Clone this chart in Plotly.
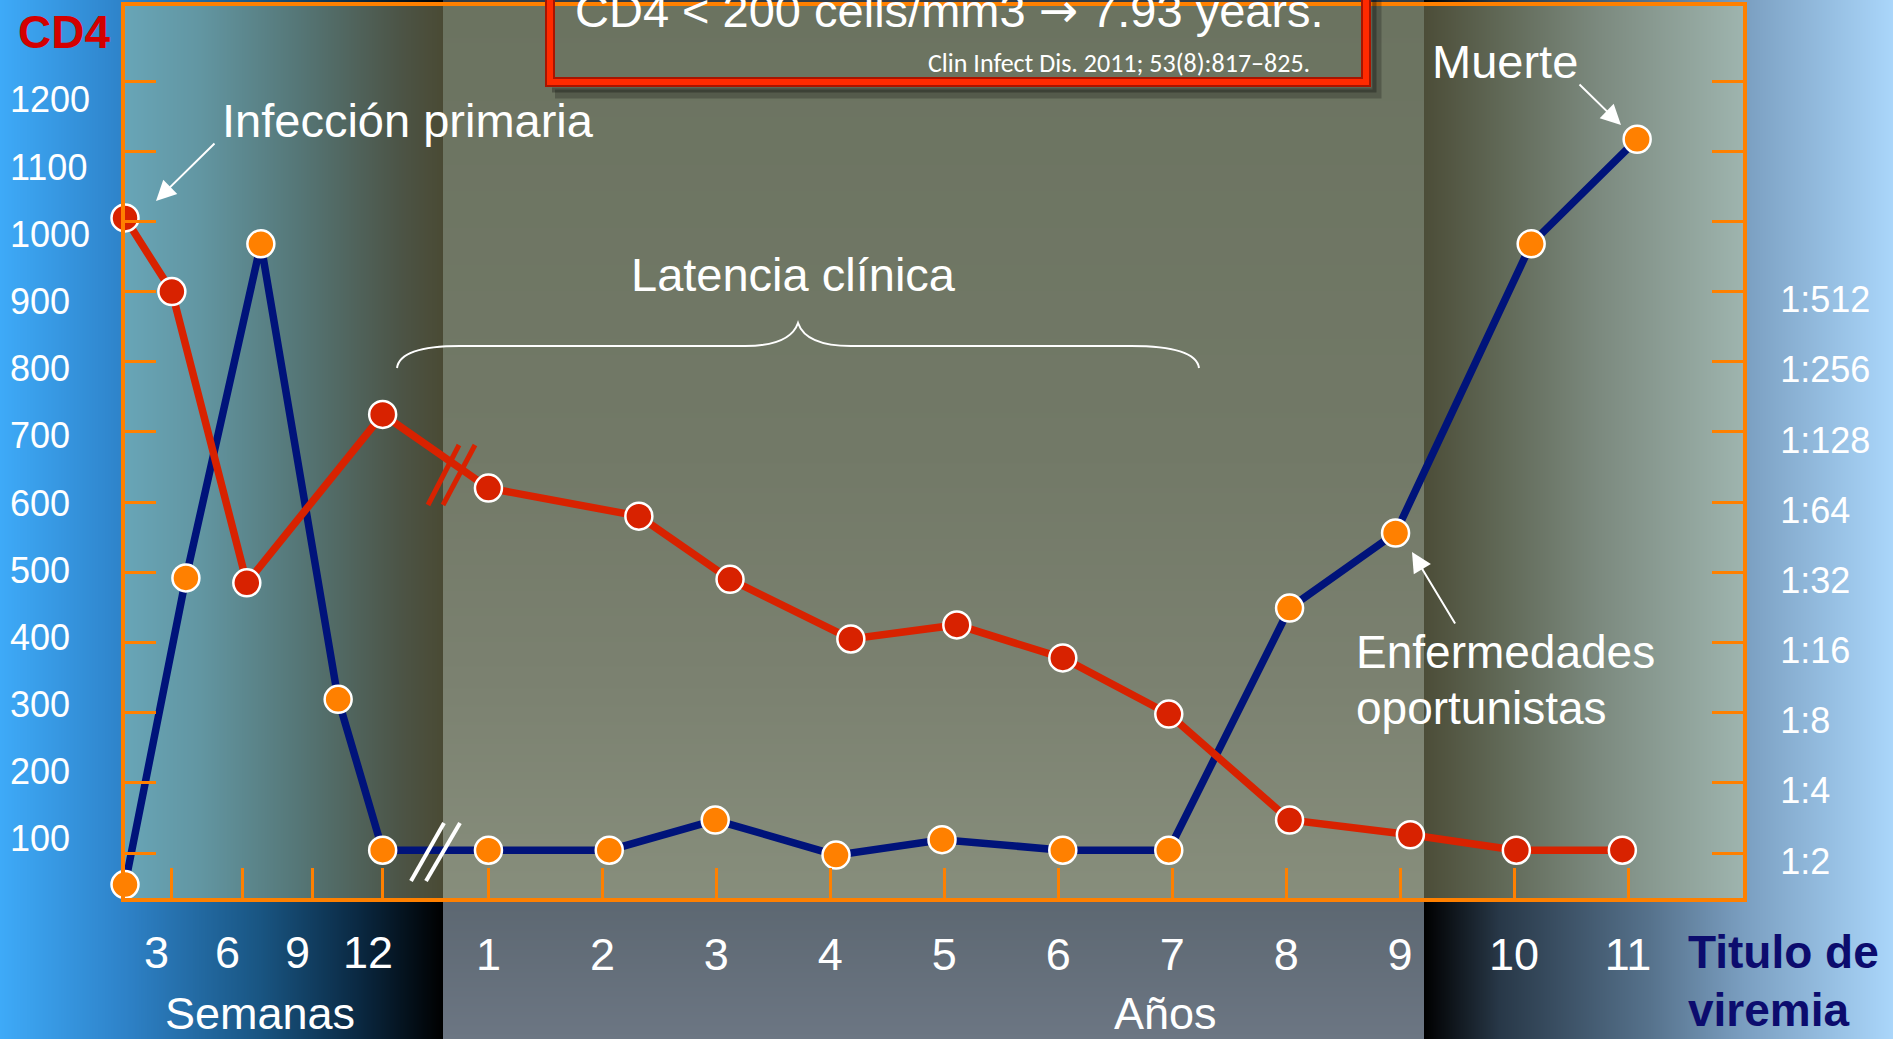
import base64
import struct
import zlib

import numpy as np
import plotly.graph_objects as go

# ---------------- data ----------------
week_ticks = [3, 6, 9, 12]
year_ticks = [1, 2, 3, 4, 5, 6, 7, 8, 9, 10, 11]

# CD4 count (cells/mm3): early phase in weeks, then in years
cd4_weeks = [1.0, 3.0, 6.2, 12.0]
cd4_week_counts = [1005, 900, 485, 725]
cd4_years = [1.0, 2.32, 3.12, 4.18, 5.11, 6.04, 6.97, 8.03, 9.09, 10.02, 10.95]
cd4_year_counts = [620, 580, 490, 405, 425, 378, 298, 147, 126, 104, 104]

# viremia titre, as log2 of the dilution (1 -> 1:2, 9 -> 1:512)
vir_weeks = [1.0, 3.6, 6.8, 10.1, 12.0]
vir_week_log2 = [0.55, 4.92, 9.68, 3.19, 1.04]
vir_years = [1.0, 2.06, 2.99, 4.05, 4.98, 6.04, 6.97, 8.03, 8.96, 10.15, 11.08]
vir_year_log2 = [1.04, 1.04, 1.47, 0.97, 1.19, 1.04, 1.04, 4.49, 5.56, 9.68, 11.17]

cd4_ticks = [100, 200, 300, 400, 500, 600, 700, 800, 900, 1000, 1100, 1200]
titer_ticks = [1, 2, 3, 4, 5, 6, 7, 8, 9, 10, 11, 12]
titer_labels = ["1:2", "1:4", "1:8", "1:16", "1:32", "1:64", "1:128", "1:256", "1:512"]

# ---------------- geometry ----------------
W, H = 1893, 1039
L, T = 125, 6            # plot area origin (px)
PW, PH = 1618, 892       # plot area size (px)
R = W - L - PW
B = H - T - PH

ORANGE = "#ff8000"
RED = "#d82200"
NAVY = "#00137a"
FONT = "Liberation Sans, Arial, sans-serif"

# broken time axis: years are linear, the first weeks are stretched
X_MIN, X_MAX = -2.1893, 12.0088
WEEK0, WEEK_UNIT = -2.3947, 0.20553


def week_pos(w):
    return WEEK0 + WEEK_UNIT * w


Y_MIN, Y_MAX = 35.9, 1306.9          # CD4 axis
LBL_MIN, LBL_MAX = 12.1, 1339.9      # axis carrying the left-hand labels


def X(px):
    return (px - L) / PW


def Y(py):
    return (T + PH - py) / PH


# ---------------- background ----------------
xs = np.arange(W) + 0.5
ys = np.arange(H) + 0.5


def ramp(coord, stops):
    pos = [s[0] for s in stops]
    cols = np.array([s[1] for s in stops], float)
    return np.stack([np.interp(coord, pos, cols[:, k]) for k in range(3)], axis=-1)


img = np.zeros((H, W, 3))
colA = xs < 443
colB = (xs >= 443) & (xs < 1424)
colC = xs >= 1424

outer_a = ramp(xs, [(0, (62, 170, 248)), (125, (46, 130, 200)), (260, (25, 85, 130)),
                    (360, (10, 40, 65)), (443, (0, 0, 0))])
outer_b = ramp(ys, [(0, (50, 60, 70)), (898, (92, 103, 113)), (1039, (108, 118, 131))])
outer_c = ramp(xs, [(1424, (0, 0, 0)), (1500, (40, 56, 72)), (1650, (86, 114, 140)),
                    (1743, (122, 158, 192)), (1893, (170, 214, 250))])
img[:, colA] = outer_a[colA][None, :, :]
img[:, colB] = outer_b[:, None, :]
img[:, colC] = outer_c[colC][None, :, :]

rows_p = (ys >= T) & (ys < T + PH)
pa = (xs >= L) & (xs < 443)
pb = colB
pc = (xs >= 1424) & (xs < L + PW)
plot_a = ramp(xs, [(125, (104, 165, 183)), (200, (98, 150, 162)), (300, (85, 118, 118)),
                   (400, (76, 84, 70)), (443, (74, 74, 52))])
plot_b = ramp(ys, [(6, (107, 115, 96)), (450, (114, 121, 103)), (680, (123, 129, 112)),
                   (898, (135, 142, 124))])
plot_c = ramp(xs, [(1424, (76, 77, 56)), (1500, (96, 104, 86)), (1600, (124, 138, 127)),
                   (1743, (158, 180, 174))])
ri = np.where(rows_p)[0]
img[np.ix_(ri, np.where(pa)[0])] = plot_a[pa][None, :, :]
img[np.ix_(ri, np.where(pb)[0])] = plot_b[rows_p][:, None, :]
img[np.ix_(ri, np.where(pc)[0])] = plot_c[pc][None, :, :]


def png_data_uri(arr):
    a = np.clip(np.round(arr), 0, 255).astype(np.int16)
    h, w, _ = a.shape
    d = np.empty_like(a)
    d[:, 0] = a[:, 0]
    d[:, 1:] = a[:, 1:] - a[:, :-1]
    d = (d % 256).astype(np.uint8).reshape(h, w * 3)
    raw = np.concatenate([np.ones((h, 1), np.uint8), d], axis=1).tobytes()

    def chunk(tag, data):
        return (struct.pack(">I", len(data)) + tag + data
                + struct.pack(">I", zlib.crc32(tag + data) & 0xFFFFFFFF))

    png = (b"\x89PNG\r\n\x1a\n"
           + chunk(b"IHDR", struct.pack(">IIBBBBB", w, h, 8, 2, 0, 0, 0))
           + chunk(b"IDAT", zlib.compress(raw, 9))
           + chunk(b"IEND", b""))
    return "data:image/png;base64," + base64.b64encode(png).decode()


# ---------------- traces ----------------
cd4_x = [week_pos(w) for w in cd4_weeks] + cd4_years
cd4_y = cd4_week_counts + cd4_year_counts
vir_x = [week_pos(w) for w in vir_weeks] + vir_years
vir_y = vir_week_log2 + vir_year_log2

fig = go.Figure()
# viremia on the base (right-hand, titre) axis; CD4 on the overlay so it sits on top
fig.add_trace(go.Scatter(
    x=vir_x, y=vir_y, yaxis="y", mode="lines+markers", name="Viremia",
    line=dict(color=NAVY, width=7.5),
    marker=dict(size=27, color=ORANGE, line=dict(color="white", width=2.5)),
    cliponaxis=False, showlegend=False, hoverinfo="skip"))
fig.add_trace(go.Scatter(
    x=cd4_x, y=cd4_y, yaxis="y2", mode="lines+markers", name="CD4",
    line=dict(color=RED, width=7.5),
    marker=dict(size=27, color=RED, line=dict(color="white", width=2.5)),
    cliponaxis=False, showlegend=False, hoverinfo="skip"))

# ---------------- annotations ----------------
ann = []


def text(s, px, py, size=47, color="white", anchor="left", bold=False, family=FONT):
    ann.append(dict(text=f"<b>{s}</b>" if bold else s, xref="paper", yref="paper",
                    x=X(px), y=Y(py), xanchor=anchor, yanchor="middle",
                    showarrow=False, font=dict(size=size, color=color, family=family)))


def arrow(hx, hy, tx, ty):
    ann.append(dict(text="", xref="paper", yref="paper", x=X(hx), y=Y(hy),
                    ax=tx - hx, ay=ty - hy, showarrow=True, arrowhead=2,
                    arrowsize=2, arrowwidth=2, arrowcolor="white"))


text("CD4", 16, 31.5, size=46, color="#d40000", bold=True)
text("Infección primaria", 220, 121)
text("Latencia clínica", 629, 274)
text("Muerte", 1430, 62)
text("Enfermedades", 1354, 652, size=46)
text("oportunistas", 1354, 707.5, size=46)
text("CD4 &lt; 200 cells/mm3 <span style='font-family:DejaVu Sans'>→</span> 7.93 years.",
     573, 10)
text("Clin Infect Dis. 2011; 53(8):817–825.", 1312, 63, size=26, anchor="right",
     family="Carlito, Lato, Liberation Sans, sans-serif")
text("Semanas", 260, 1013, size=45, anchor="center")
text("Años", 1165, 1013, size=45, anchor="center")
text("Titulo de", 1686, 952, size=46, color="#0c0c6e", bold=True)
text("viremia", 1686, 1010, size=46, color="#0c0c6e", bold=True)

arrow(156, 201, 216, 142)
arrow(1621, 125, 1578, 83)
arrow(1412, 552, 1456, 625)

# left CD4 scale labels, set on their own (slightly tighter) scale
for v in cd4_ticks:
    ann.append(dict(text=str(v), xref="paper", yref="y3", x=X(8), y=v,
                    xanchor="left", yanchor="middle", showarrow=False,
                    font=dict(size=36, color="white", family=FONT)))

# week labels under the stretched start of the time axis
for w in week_ticks:
    ann.append(dict(text=str(w), xref="x", yref="paper", x=week_pos(w), y=Y(953),
                    xshift=-15, xanchor="center", yanchor="middle", showarrow=False,
                    font=dict(size=45, color="white", family=FONT)))

# ---------------- shapes ----------------
shapes = []


def seg(x0, y0, x1, y1, color, width):
    shapes.append(dict(type="line", xref="paper", yref="paper",
                       x0=X(x0), y0=Y(y0), x1=X(x1), y1=Y(y1),
                       line=dict(color=color, width=width)))


def path(points, color, width, cmds):
    d = ""
    for c, pts in zip(cmds, points):
        d += c + " " + " ".join(f"{X(px):.5f},{Y(py):.5f}" for px, py in pts) + " "
    shapes.append(dict(type="path", xref="paper", yref="paper", path=d.strip(),
                       line=dict(color=color, width=width)))


# axis break marks
seg(428, 505, 459, 445, RED, 5)
seg(443, 505, 475, 445, RED, 5)
seg(411, 881, 444, 823, "white", 4)
seg(426, 881, 460, 823, "white", 4)

# brace over the clinical latency period
path([[(397, 368)], [(400, 346), (460, 346)], [(745, 346)], [(790, 346), (798, 323)],
      [(806, 346), (851, 346)], [(1131, 346)], [(1196, 346), (1199, 368)]],
     "white", 2, ["M", "Q", "L", "Q", "Q", "L", "Q"])

# framed note at the top
path([[(1377, -20)], [(1377, 94)], [(555, 94)]], "rgba(0,0,0,0.22)", 9, ["M", "L", "L"])
path([[(1374, -20)], [(1374, 90)], [(552, 90)]], "rgba(0,0,0,0.28)", 5, ["M", "L", "L"])
shapes.append(dict(type="rect", xref="paper", yref="paper",
                   x0=X(550), y0=Y(-40), x1=X(1366), y1=Y(82),
                   line=dict(color="#a81400", width=10)))
shapes.append(dict(type="rect", xref="paper", yref="paper",
                   x0=X(550), y0=Y(-40), x1=X(1366), y1=Y(82),
                   line=dict(color="#ff2a00", width=6)))

# ---------------- layout ----------------
axis_common = dict(showgrid=False, zeroline=False, fixedrange=True)

fig.update_layout(
    width=W, height=H,
    margin=dict(l=L, r=R, t=T, b=B, pad=0),
    paper_bgcolor="#3a4650", plot_bgcolor="rgba(0,0,0,0)",
    font=dict(family=FONT, color="white"),
    images=[dict(source=png_data_uri(img), xref="paper", yref="paper",
                 x=X(0), y=Y(0), sizex=W / PW, sizey=H / PH,
                 xanchor="left", yanchor="top", sizing="stretch", layer="below")],
    xaxis=dict(range=[X_MIN, X_MAX],
               tickvals=[week_pos(w) for w in week_ticks] + year_ticks,
               ticktext=[""] * len(week_ticks) + [str(y) for y in year_ticks],
               ticks="inside", ticklen=30, tickwidth=2.5, tickcolor=ORANGE,
               showline=True, linecolor=ORANGE, linewidth=4, mirror=True,
               tickfont=dict(size=45, color="white"), ticklabelstandoff=14,
               automargin=False, **axis_common),
    # titre of viremia (right)
    yaxis=dict(side="right", range=[Y_MIN / 100, Y_MAX / 100], tickvals=titer_ticks,
               ticktext=titer_labels + [""] * (len(titer_ticks) - len(titer_labels)),
               ticks="inside", ticklen=31, tickwidth=2.5, tickcolor=ORANGE,
               showline=True, linecolor=ORANGE, linewidth=4,
               tickfont=dict(size=36, color="white"), ticklabelstandoff=26,
               ticklabelshift=8, automargin=False, **axis_common),
    # CD4 count (left)
    yaxis2=dict(overlaying="y", side="left", anchor="x",
                range=[Y_MIN, Y_MAX], tickvals=cd4_ticks, showticklabels=False,
                ticks="inside", ticklen=31, tickwidth=2.5, tickcolor=ORANGE,
                showline=True, linecolor=ORANGE, linewidth=4,
                automargin=False, **axis_common),
    yaxis3=dict(overlaying="y", anchor="x", range=[LBL_MIN, LBL_MAX], visible=False,
                **axis_common),
    annotations=ann,
    shapes=shapes,
    showlegend=False,
)

fig.write_html("out.html")
